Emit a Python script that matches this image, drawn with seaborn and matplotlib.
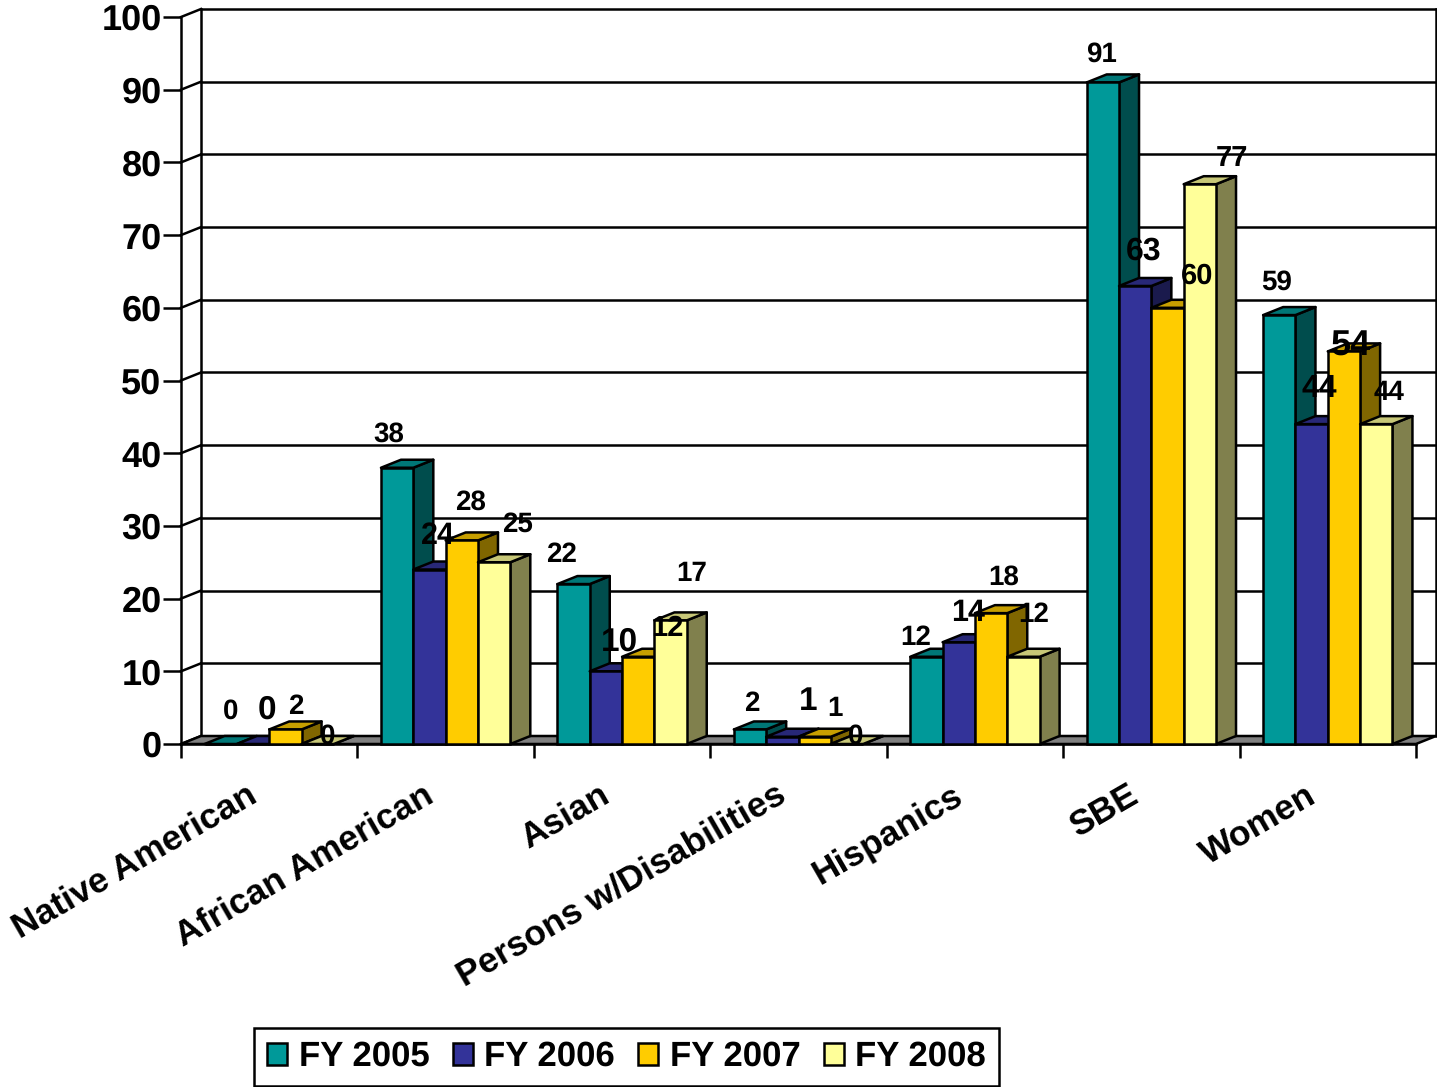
import numpy as np
import pandas as pd
import seaborn as sns
import matplotlib.pyplot as plt
from matplotlib.patches import Patch, Polygon
from matplotlib.colors import to_rgb
from matplotlib.transforms import ScaledTranslation

categorias = ['Native American', 'African American', 'Asian', 'Persons w/Disabilities',
              'Hispanics', 'SBE', 'Women']
anos = ['FY 2005', 'FY 2006', 'FY 2007', 'FY 2008']
fy2005 = [0, 38, 22, 2, 12, 91, 59]
fy2006 = [0, 24, 10, 1, 14, 63, 44]
fy2007 = [2, 28, 12, 1, 18, 60, 54]
fy2008 = [0, 25, 17, 0, 12, 77, 44]
cores = ['#009999', '#333399', '#FFCC00', '#FFFF99']

# deslocamento dos rotulos em pixels, a partir do topo de cada barra
desloc = [
    [(10, 33), (-8, 33), (-12, 29), (2, 26), (-11, 19), (-1, 28), (-3, 33)],
    [(14, 34), (8, 34), (14, 29), (26, 35), (9, 29), (8, 35), (8, 35)],
    [(10, 23), (9, 38), (29, 28), (20, 28), (13, 36), (30, 32), (7, 5)],
    [(10, 8), (23, 38), (21, 47), (9, 8), (10, 42), (32, 26), (13, 31)],
]
tamanhos = [
    [20, 20, 20, 20, 20, 20, 20],
    [24, 22, 24, 24, 22, 23, 23],
    [20, 20, 21, 20, 20, 21, 26],
    [20, 20, 20, 20, 20, 21, 20],
]

sns.set_theme(style='white')
plt.rcParams['font.family'] = ['Liberation Sans', 'DejaVu Sans']
plt.rcParams['font.weight'] = 'bold'
plt.rcParams['text.hinting'] = 'no_hinting'

df = pd.DataFrame({
    'categoria': categorias * 4,
    'ano': np.repeat(anos, 7),
    'valor': fy2005 + fy2006 + fy2007 + fy2008,
})

W, H = 1437, 1087
LW = 1.8
fig = plt.figure(figsize=(W / 100, H / 100), dpi=100)
ax = fig.add_axes([181 / W, 1 - 744 / H, 1235 / W, 727 / H])

sns.barplot(data=df, x='categoria', y='valor', hue='ano', order=categorias, hue_order=anos,
            palette=cores, width=0.733, gap=0, saturation=1, legend=False, ax=ax)
ax.set_xlim(-0.5, 6.5)
ax.set_ylim(0, 100)
ax.set_xlabel('')
ax.set_ylabel('')

# profundidade do efeito 3D em unidades de dados
dx = 20 / (1235 / 7)
dy = 8 / (727 / 100)
preto = dict(color='black', lw=LW, clip_on=False, solid_capstyle='projecting')

# parede do fundo e chao
yticks = np.arange(0, 101, 10)
for y in yticks:
    ax.plot([-0.5, -0.5 + dx], [y, y + dy], zorder=1, **preto)
    if y > 0:
        ax.plot([-0.5 + dx, 6.5 + dx], [y + dy, y + dy], zorder=1, **preto)
ax.plot([-0.5 + dx, -0.5 + dx], [dy, 100 + dy], zorder=1, **preto)
ax.plot([6.5 + dx, 6.5 + dx], [dy, 100 + dy], zorder=1, **preto)
ax.add_patch(Polygon([(-0.5, 0), (6.5, 0), (6.5 + dx, dy), (-0.5 + dx, dy)], facecolor='#808080',
                     edgecolor='black', lw=LW, clip_on=False, zorder=1.5))

# barras: lateral e topo saem da geometria de cada barra do seaborn
barras = []
for s, cont in enumerate(ax.containers):
    for c, b in enumerate(cont):
        barras.append((b.get_x(), s, b))
barras.sort(key=lambda t: t[0])

for i, (x0, s, b) in enumerate(barras):
    z = 3 + i * 0.01
    x1 = x0 + b.get_width()
    h = b.get_height()
    rgb = np.array(to_rgb(cores[s]))
    lateral = Polygon([(x1, 0), (x1 + dx, dy), (x1 + dx, h + dy), (x1, h)], facecolor=rgb * 0.5,
                      edgecolor='black', lw=LW, zorder=z, clip_on=False, joinstyle='round')
    topo = Polygon([(x0, h), (x1, h), (x1 + dx, h + dy), (x0 + dx, h + dy)], facecolor=rgb * 0.78,
                   edgecolor='black', lw=LW, zorder=z, clip_on=False, joinstyle='round')
    ax.add_patch(lateral)
    ax.add_patch(topo)
    b.set_edgecolor('black')
    b.set_linewidth(LW)
    b.set_zorder(z + 0.001)
    b.set_clip_on(False)

# rotulos de dados
series = [fy2005, fy2006, fy2007, fy2008]
for s, cont in enumerate(ax.containers):
    for c, b in enumerate(cont):
        ax.annotate(str(series[s][c]), xy=(b.get_x() + b.get_width() / 2, b.get_height()),
                    xytext=desloc[s][c], textcoords='offset pixels', ha='center', va='center',
                    fontsize=tamanhos[s][c], fontweight='bold', color='black',
                    zorder=100, annotation_clip=False)

# eixos
sns.despine(ax=ax, top=True, right=True)
for lado in ['left', 'bottom']:
    ax.spines[lado].set_linewidth(LW)
    ax.spines[lado].set_color('black')
    ax.spines[lado].set_zorder(2)
ax.set_yticks(yticks)
ax.tick_params(axis='y', direction='out', length=13, width=LW, color='black', left=True,
               labelsize=26, labelcolor='black', pad=1)
ax.set_xticks(range(7))
ax.set_xticklabels(categorias, rotation=30, ha='right', rotation_mode='anchor', fontsize=25.5,
                   fontweight='bold', color='black')
ax.set_xticks(np.arange(-0.5, 7), minor=True)
ax.tick_params(axis='x', which='minor', direction='out', length=10, width=LW, color='black', bottom=True)
ax.tick_params(axis='x', which='major', length=0, pad=25)
for rot in ax.get_xticklabels():
    rot.set_transform(rot.get_transform() + ScaledTranslation(-0.23, 0, fig.dpi_scale_trans))

# legenda
handles = [Patch(facecolor=c, edgecolor='black', lw=LW, label=a) for c, a in zip(cores, anos)]
leg = fig.legend(handles=handles, ncol=4, loc='center', bbox_to_anchor=(626.5 / W, 1 - 1057 / H),
                 fontsize=25, frameon=True, fancybox=False, edgecolor='black', framealpha=1,
                 handlelength=0.58, handleheight=0.58, handletextpad=0.33, columnspacing=0.67,
                 borderpad=0.37, borderaxespad=0, labelcolor='black')
leg.get_frame().set_linewidth(LW)
for t in leg.get_texts():
    t.set_fontweight('bold')

fig.savefig('out.png', dpi=100)
